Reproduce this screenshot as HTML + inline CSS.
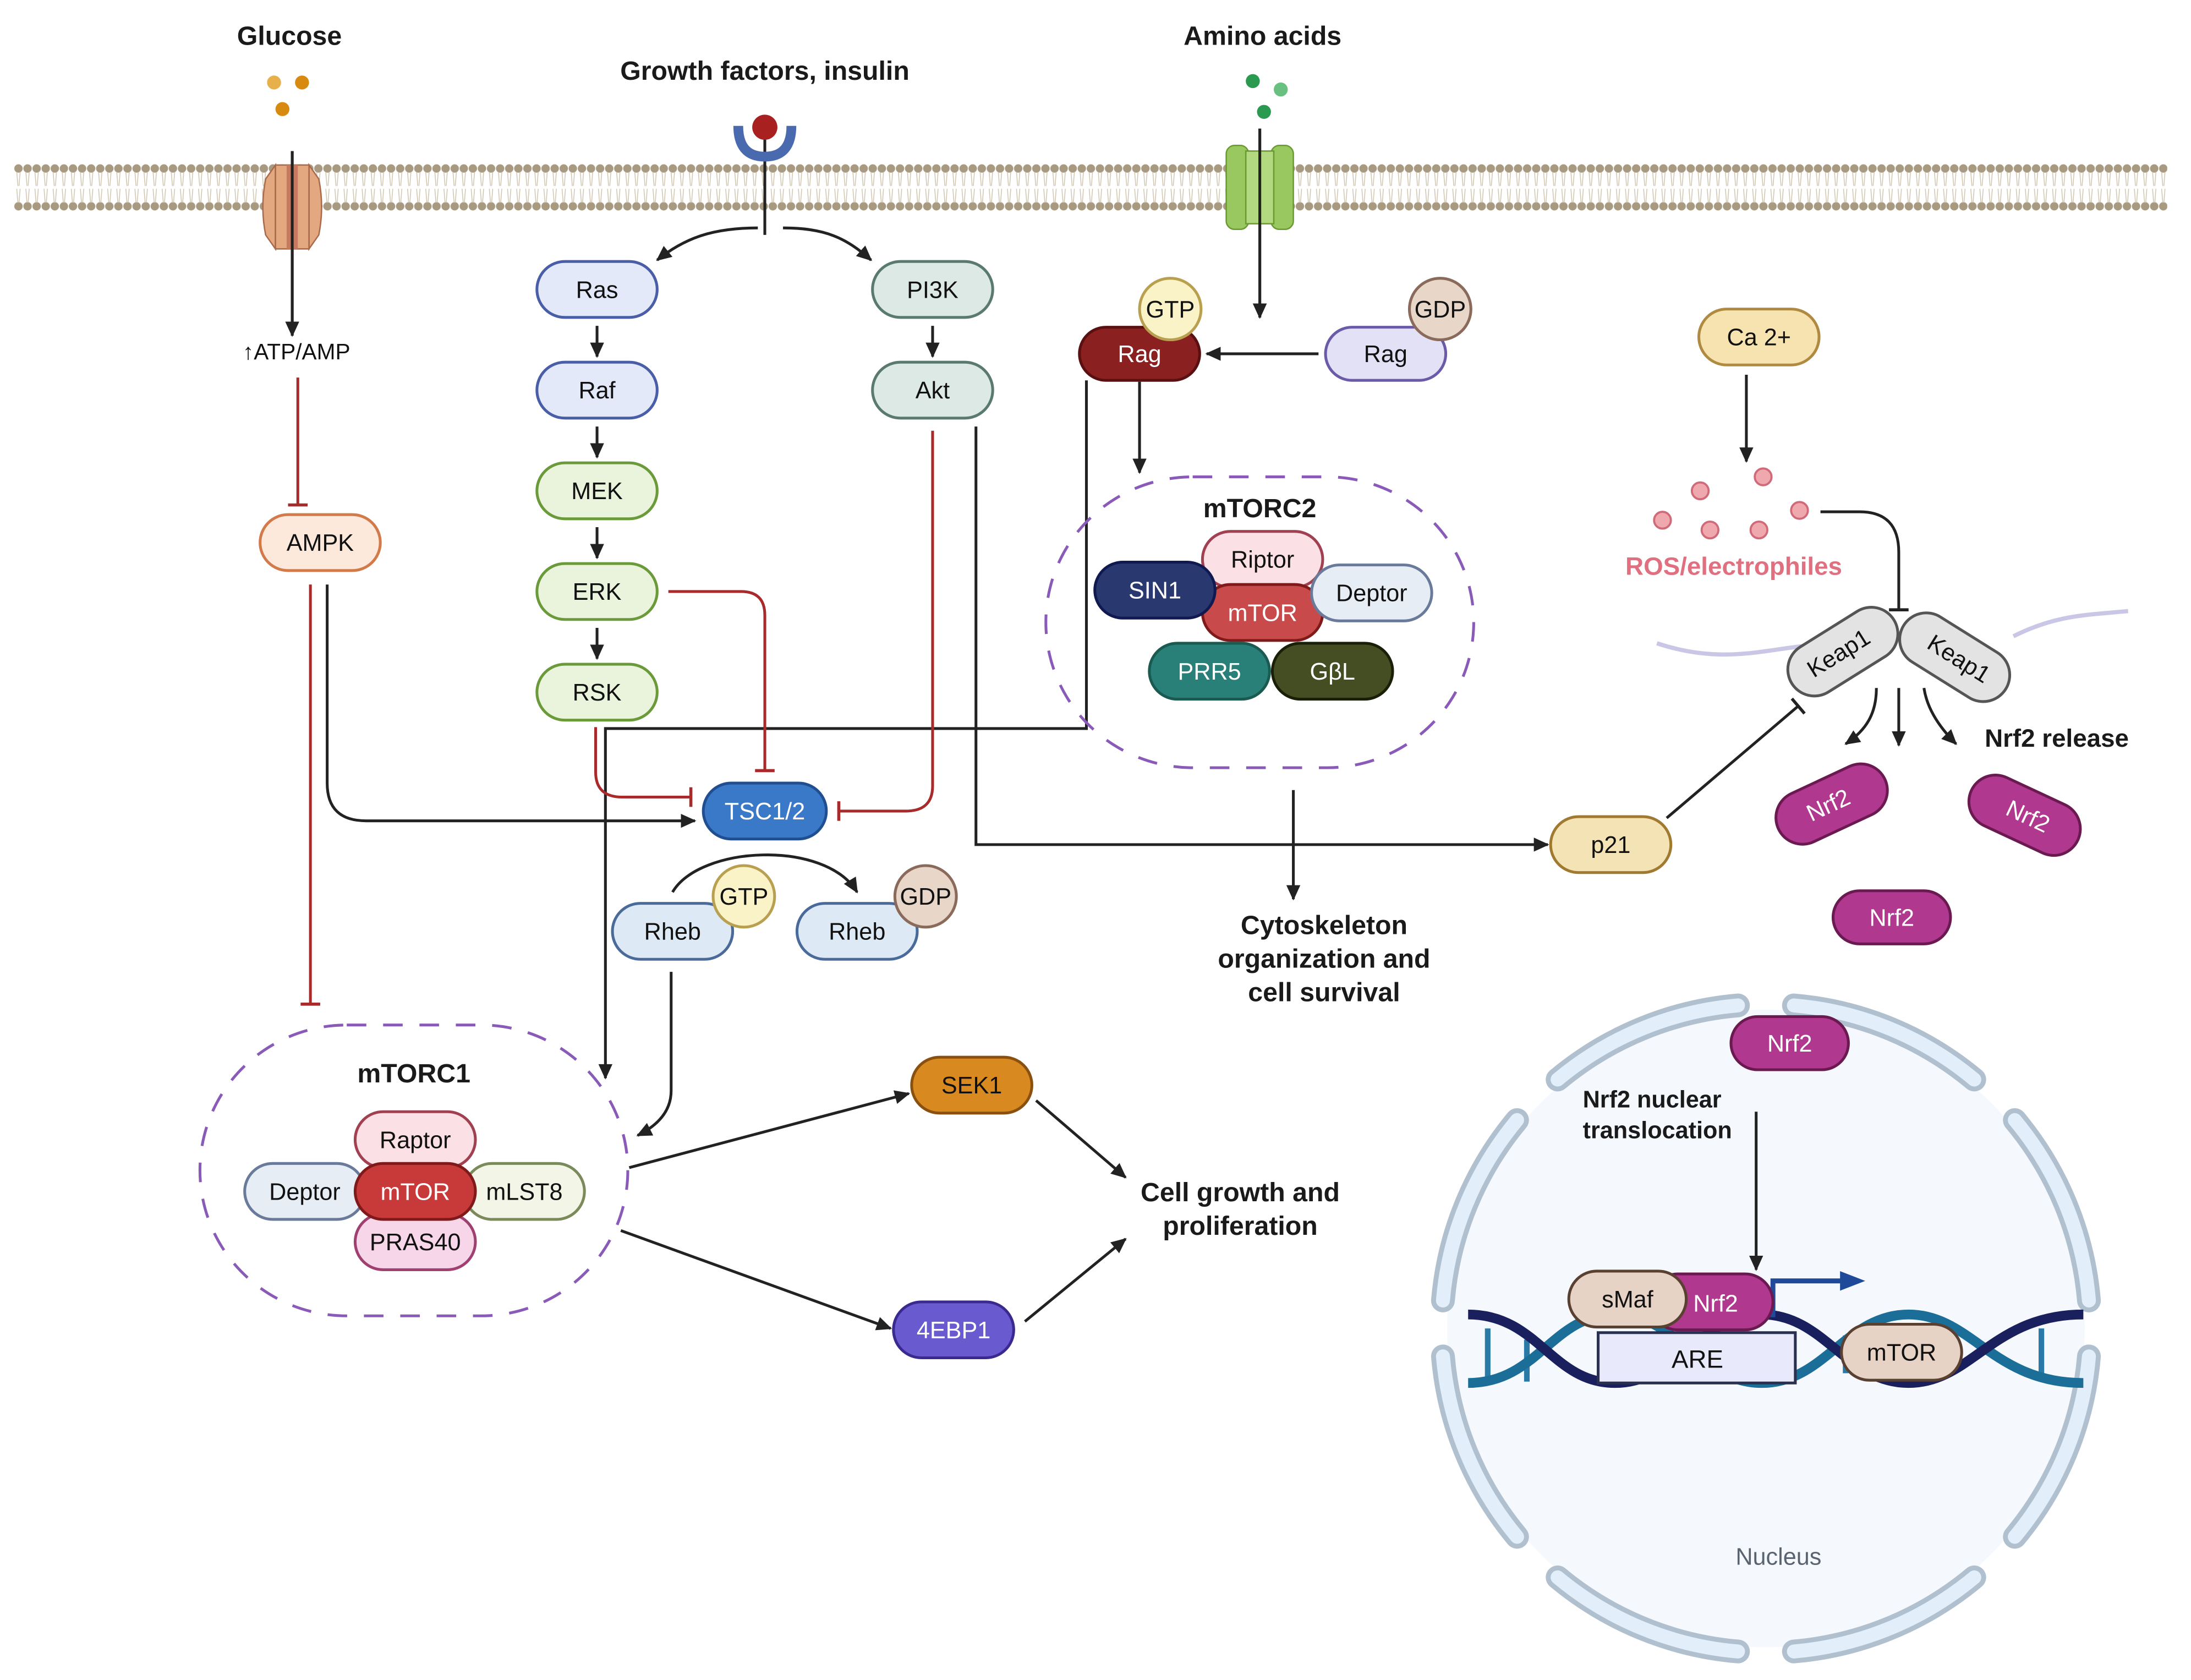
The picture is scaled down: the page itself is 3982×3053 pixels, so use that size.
<!DOCTYPE html>
<html><head><meta charset="utf-8"><style>html,body{margin:0;padding:0;background:#fff}svg{display:block}text{font-family:"Liberation Sans",sans-serif}</style></head><body>
<svg width="3982" height="3053" viewBox="0 0 1567 1201.4" preserveAspectRatio="none" xmlns="http://www.w3.org/2000/svg">
<defs>
<marker id="a" markerUnits="userSpaceOnUse" markerWidth="12" markerHeight="10" refX="10" refY="5" orient="auto" overflow="visible"><path d="M0,0 L11,5 L0,10 z" fill="#222"/></marker>
<marker id="ib" markerUnits="userSpaceOnUse" markerWidth="4" markerHeight="14" refX="1" refY="7" orient="auto" overflow="visible"><rect x="0" y="0" width="2.2" height="14" fill="#222"/></marker>
<marker id="ir" markerUnits="userSpaceOnUse" markerWidth="4" markerHeight="14" refX="1" refY="7" orient="auto" overflow="visible"><rect x="0" y="0" width="2.2" height="14" fill="#a82a2a"/></marker>
<marker id="ab" markerUnits="userSpaceOnUse" markerWidth="20" markerHeight="16" refX="2" refY="7" orient="auto" overflow="visible"><path d="M0,0 L18,7 L0,14 z" fill="#1f4a9a"/></marker>
<pattern id="mem" width="6.5" height="34" patternUnits="userSpaceOnUse" x="10" y="117">
<circle cx="3.2" cy="3.5" r="3" fill="#a89a80"/><circle cx="3.2" cy="30.5" r="3" fill="#a89a80"/>
<path d="M2,6 L2.8,16 M4.4,6 L3.6,16 M2,18 L2.8,28 M4.4,18 L3.6,28" stroke="#cfc5b0" stroke-width="0.6"/>
</pattern>
</defs>
<rect width="1570" height="1210" fill="#fff"/>
<rect x="10" y="117" width="1540" height="34" fill="url(#mem)"/>

<circle cx="1263" cy="950" r="228" fill="#f5f9fe"/>
<g fill="none" stroke-linecap="round">
<g stroke="#b0c0cf" stroke-width="17">
<path d="M1494,930 A232,232 0 0 0 1441,801"/><path d="M1412,772 A232,232 0 0 0 1283,719"/><path d="M1243,719 A232,232 0 0 0 1114,772"/><path d="M1085,801 A232,232 0 0 0 1032,930"/><path d="M1032,970 A232,232 0 0 0 1085,1099"/><path d="M1114,1128 A232,232 0 0 0 1243,1181"/><path d="M1283,1181 A232,232 0 0 0 1412,1128"/><path d="M1441,1099 A232,232 0 0 0 1494,970"/>
</g>
<g stroke="#e2effb" stroke-width="10">
<path d="M1494,930 A232,232 0 0 0 1441,801"/><path d="M1412,772 A232,232 0 0 0 1283,719"/><path d="M1243,719 A232,232 0 0 0 1114,772"/><path d="M1085,801 A232,232 0 0 0 1032,930"/><path d="M1032,970 A232,232 0 0 0 1085,1099"/><path d="M1114,1128 A232,232 0 0 0 1243,1181"/><path d="M1283,1181 A232,232 0 0 0 1412,1128"/><path d="M1441,1099 A232,232 0 0 0 1494,970"/>
</g>
</g>
<text x="1272" y="1119" font-size="17" fill="#5a6470" text-anchor="middle">Nucleus</text>
<g fill="none" stroke-width="7">
<g stroke-width="4"><path d="M1064,950 V985 M1092,958 V988 M1190,946 V975 M1320,955 V982 M1460,950 V982 M1395,945 V970" stroke="#2a7aa8"/></g>
<path d="M1050,989 C1100,989 1110,940 1155,940 C1200,940 1215,989 1260,989 C1305,989 1320,940 1365,940 C1410,940 1425,989 1490,989" stroke="#1a6e98"/>
<path d="M1050,940 C1100,940 1110,989 1155,989 C1200,989 1215,940 1260,940 C1305,940 1320,989 1365,989 C1410,989 1425,940 1490,940" stroke="#1a1f5e"/>
</g>
<rect x="1143" y="953" width="141" height="36" fill="#e8e9fa" stroke="#2a3050" stroke-width="2"/>
<text x="1214" y="978" font-size="18" text-anchor="middle" fill="#111">ARE</text>
<path d="M1268,942 V916 H1318" fill="none" stroke="#1f4a9a" stroke-width="3.5" marker-end="url(#ab)"/>

<path d="M1185,460 C1230,475 1260,465 1290,462 M1440,455 C1470,440 1490,440 1522,437" fill="none" stroke="#c9c6e6" stroke-width="3"/>

<g fill="none" stroke="#222" stroke-width="2">
<path d="M209,108 V240" marker-end="url(#a)"/>
<path d="M547,95 V168"/>
<path d="M542,163 C510,163 490,170 470,186" marker-end="url(#a)"/>
<path d="M560,163 C590,163 605,170 623,186" marker-end="url(#a)"/>
<path d="M427,233 V255" marker-end="url(#a)"/>
<path d="M427,305 V327" marker-end="url(#a)"/>
<path d="M427,377 V399" marker-end="url(#a)"/>
<path d="M427,449 V471" marker-end="url(#a)"/>
<path d="M667,233 V255" marker-end="url(#a)"/>
<path d="M234,418 V560 Q234,587 262,587 H497" marker-end="url(#a)"/>
<path d="M698,305 V604 H1107" marker-end="url(#a)"/>
<path d="M777,272 V521 H433 V771" marker-end="url(#a)"/>
<path d="M815,273 V338" marker-end="url(#a)"/>
<path d="M901,92 V227" marker-end="url(#a)"/>
<path d="M943,253 H863" marker-end="url(#a)"/>
<path d="M925,565 V643" marker-end="url(#a)"/>
<path d="M481,638 C500,605 590,600 613,638" marker-end="url(#a)"/>
<path d="M480,695 V780 Q480,800 456,812" marker-end="url(#a)"/>
<path d="M450,835 L650,782" marker-end="url(#a)"/>
<path d="M444,880 L637,950" marker-end="url(#a)"/>
<path d="M741,787 L805,842" marker-end="url(#a)"/>
<path d="M733,945 L805,886" marker-end="url(#a)"/>
<path d="M1249,268 V330" marker-end="url(#a)"/>
<path d="M1302,366 H1330 Q1358,366 1358,395 V436" marker-end="url(#ib)"/>
<path d="M1192,585 L1286,505" marker-end="url(#ib)"/>
<path d="M1342,492 C1342,510 1335,522 1320,532" marker-end="url(#a)"/>
<path d="M1358,492 V533" marker-end="url(#a)"/>
<path d="M1376,492 C1378,505 1385,518 1399,532" marker-end="url(#a)"/>
<path d="M1256,795 V908" marker-end="url(#a)"/>
</g>
<g fill="none" stroke="#a82a2a" stroke-width="2">
<path d="M213,270 V361" marker-end="url(#ir)"/>
<path d="M222,418 V718" marker-end="url(#ir)"/>
<path d="M478,423 H530 Q547,423 547,440 V551" marker-end="url(#ir)"/>
<path d="M426,520 V552 Q426,570 445,570 H494" marker-end="url(#ir)"/>
<path d="M667,308 V562 Q667,580 648,580 H600" marker-end="url(#ir)"/>
</g>

<circle cx="196" cy="59" r="5" fill="#e8b04a"/><circle cx="216" cy="59" r="5" fill="#d88a10"/><circle cx="202" cy="78" r="5" fill="#d88a10"/>
<path d="M190,128 Q186,148 190,168 L197,178 V118 Z M228,128 Q232,148 228,168 L221,178 V118 Z" fill="#e4a880" stroke="#a86a4a" stroke-width="1"/>
<rect x="197" y="118" width="24" height="60" fill="#e4a880" stroke="#a86a4a" stroke-width="1"/>
<rect x="205" y="118" width="8" height="60" fill="#c87a60"/>
<path d="M209,108 V240" stroke="#222" stroke-width="2"/>
<path d="M528,90 Q528,112 547,112 Q566,112 566,90" fill="none" stroke="#4a6ab0" stroke-width="7"/>
<circle cx="547" cy="91" r="9" fill="#a82020"/>
<circle cx="896" cy="58" r="5" fill="#2a9a50"/><circle cx="916" cy="64" r="5" fill="#6ac080"/><circle cx="904" cy="80" r="5" fill="#2a9a50"/>
<rect x="877" y="104" width="16" height="60" rx="6" fill="#9ac860" stroke="#6a9a30"/>
<rect x="909" y="104" width="16" height="60" rx="6" fill="#9ac860" stroke="#6a9a30"/>
<rect x="891" y="108" width="20" height="52" fill="#b2d880" stroke="#6a9a30"/>
<path d="M901,92 V227" stroke="#222" stroke-width="2" marker-end="url(#a)"/>

<g fill="#eea8ae" stroke="#d06a78" stroke-width="1.5">
<circle cx="1216" cy="351" r="6"/><circle cx="1261" cy="341" r="6"/><circle cx="1189" cy="372" r="6"/><circle cx="1223" cy="379" r="6"/><circle cx="1258" cy="379" r="6"/><circle cx="1287" cy="365" r="6"/>
</g>

<rect x="748" y="341" width="306" height="208" rx="105" fill="none" stroke="#8a5ab8" stroke-width="2" stroke-dasharray="14,12"/>
<rect x="143" y="733" width="306" height="208" rx="105" fill="none" stroke="#8a5ab8" stroke-width="2" stroke-dasharray="14,12"/>

<g stroke-width="2">
<rect x="384" y="187" width="86" height="40" rx="20" fill="#e3e9f8" stroke="#4a5ea8"/>
<rect x="384" y="259" width="86" height="40" rx="20" fill="#e3e9f8" stroke="#4a5ea8"/>
<rect x="384" y="331" width="86" height="40" rx="20" fill="#eaf3dc" stroke="#6a9a3a"/>
<rect x="384" y="403" width="86" height="40" rx="20" fill="#eaf3dc" stroke="#6a9a3a"/>
<rect x="384" y="475" width="86" height="40" rx="20" fill="#eaf3dc" stroke="#6a9a3a"/>
<rect x="624" y="187" width="86" height="40" rx="20" fill="#dde9e5" stroke="#5a7a70"/>
<rect x="624" y="259" width="86" height="40" rx="20" fill="#dde9e5" stroke="#5a7a70"/>
<rect x="186" y="368" width="86" height="40" rx="20" fill="#fde9dc" stroke="#d27a4a"/>
<rect x="503" y="560" width="88" height="40" rx="20" fill="#3a78c8" stroke="#1f4f90"/>
<rect x="438" y="646" width="86" height="40" rx="20" fill="#dde9f5" stroke="#4a6a9a"/>
<circle cx="532" cy="641" r="22" fill="#fbf3c8" stroke="#b8a050"/>
<rect x="570" y="646" width="86" height="40" rx="20" fill="#dde9f5" stroke="#4a6a9a"/>
<circle cx="662" cy="641" r="22" fill="#e8d6c9" stroke="#8a6a5a"/>
<rect x="772" y="234" width="86" height="38" rx="19" fill="#8a2020" stroke="#5a1010"/>
<circle cx="837" cy="221" r="22" fill="#fbf3c8" stroke="#b8a050"/>
<rect x="948" y="234" width="86" height="38" rx="19" fill="#e3e1f5" stroke="#6a5aa8"/>
<circle cx="1030" cy="221" r="22" fill="#e8d6c9" stroke="#8a6a5a"/>
<rect x="860" y="380" width="86" height="40" rx="20" fill="#fbe0e5" stroke="#a04050"/>
<rect x="860" y="418" width="86" height="40" rx="20" fill="#c84a4a" stroke="#801a1a"/>
<rect x="783" y="402" width="86" height="40" rx="20" fill="#2a3870" stroke="#101a50"/>
<rect x="938" y="404" width="86" height="40" rx="20" fill="#e6edf5" stroke="#6a7a9a"/>
<rect x="822" y="460" width="86" height="40" rx="20" fill="#288078" stroke="#1a5a50"/>
<rect x="910" y="460" width="86" height="40" rx="20" fill="#444e22" stroke="#1a2008"/>
<rect x="254" y="795" width="86" height="40" rx="20" fill="#fbe0e5" stroke="#a04050"/>
<rect x="175" y="832" width="86" height="40" rx="20" fill="#e6edf5" stroke="#6a7a9a"/>
<rect x="332" y="832" width="86" height="40" rx="20" fill="#f3f5e6" stroke="#7a8a5a"/>
<rect x="254" y="868" width="86" height="40" rx="20" fill="#f7d6ea" stroke="#a04070"/>
<rect x="254" y="832" width="86" height="40" rx="20" fill="#c83a3a" stroke="#801a1a"/>
<rect x="652" y="756" width="86" height="40" rx="20" fill="#d88a20" stroke="#8a5010"/>
<rect x="639" y="931" width="86" height="40" rx="20" fill="#6a5ad0" stroke="#3a2a90"/>
<rect x="1215" y="221" width="86" height="40" rx="20" fill="#f6e3b0" stroke="#b08a40"/>
<rect x="1109" y="584" width="86" height="40" rx="20" fill="#f3e3b5" stroke="#a07a30"/>
<g transform="translate(1318,466) rotate(-32)"><rect x="-43" y="-19" width="86" height="38" rx="19" fill="#e3e3e3" stroke="#555"/></g>
<g transform="translate(1398,470) rotate(32)"><rect x="-43" y="-19" width="86" height="38" rx="19" fill="#e3e3e3" stroke="#555"/></g>
<g transform="translate(1310,575) rotate(-25)"><rect x="-42" y="-19" width="84" height="38" rx="19" fill="#b0388e" stroke="#6a1a50"/></g>
<g transform="translate(1448,583) rotate(25)"><rect x="-42" y="-19" width="84" height="38" rx="19" fill="#b0388e" stroke="#6a1a50"/></g>
<rect x="1311" y="637" width="84" height="38" rx="19" fill="#b0388e" stroke="#6a1a50"/>
<rect x="1238" y="727" width="84" height="38" rx="19" fill="#b0388e" stroke="#6a1a50"/>
<rect x="1180" y="911" width="88" height="40" rx="20" fill="#b0388e" stroke="#6a1a50"/>
<rect x="1122" y="909" width="84" height="40" rx="20" fill="#e6d3c5" stroke="#5a4030"/>
<rect x="1317" y="947" width="86" height="40" rx="20" fill="#e6d3c5" stroke="#5a4030"/>
</g>

<g font-size="17" text-anchor="middle" fill="#111">
<text x="427" y="213">Ras</text><text x="427" y="285">Raf</text><text x="427" y="357">MEK</text><text x="427" y="429">ERK</text><text x="427" y="501">RSK</text>
<text x="667" y="213">PI3K</text><text x="667" y="285">Akt</text><text x="229" y="394">AMPK</text>
<text x="547" y="586" fill="#fff">TSC1/2</text>
<text x="481" y="672">Rheb</text><text x="532" y="647">GTP</text><text x="613" y="672">Rheb</text><text x="662" y="647">GDP</text>
<text x="815" y="259" fill="#fff">Rag</text><text x="837" y="227">GTP</text><text x="991" y="259">Rag</text><text x="1030" y="227">GDP</text>
<text x="903" y="406">Riptor</text><text x="903" y="444" fill="#fff">mTOR</text><text x="826" y="428" fill="#fff">SIN1</text><text x="981" y="430">Deptor</text>
<text x="865" y="486" fill="#fff">PRR5</text><text x="953" y="486" fill="#fff">GβL</text>
<text x="297" y="821">Raptor</text><text x="218" y="858">Deptor</text><text x="297" y="858" fill="#fff">mTOR</text><text x="375" y="858">mLST8</text><text x="297" y="894">PRAS40</text>
<text x="695" y="782">SEK1</text><text x="682" y="957" fill="#fff">4EBP1</text>
<text x="1258" y="247">Ca 2+</text><text x="1152" y="610">p21</text>
<text transform="translate(1318,472) rotate(-32)">Keap1</text>
<text transform="translate(1398,476) rotate(32)">Keap1</text>
<text transform="translate(1310,581) rotate(-25)" fill="#fff">Nrf2</text>
<text transform="translate(1448,589) rotate(25)" fill="#fff">Nrf2</text>
<text x="1353" y="662" fill="#fff">Nrf2</text><text x="1280" y="752" fill="#fff">Nrf2</text>
<text x="1227" y="938" fill="#fff">Nrf2</text><text x="1164" y="935">sMaf</text><text x="1360" y="973">mTOR</text>
<text x="212" y="257" font-size="16">↑ATP/AMP</text>
</g>
<g font-size="19" font-weight="bold" text-anchor="middle" fill="#1a1a1a">
<text x="207" y="32">Glucose</text>
<text x="547" y="57">Growth factors, insulin</text>
<text x="903" y="32">Amino acids</text>
<text x="901" y="370">mTORC2</text>
<text x="296" y="774">mTORC1</text>
<text x="947" y="668">Cytoskeleton</text><text x="947" y="692">organization and</text><text x="947" y="716">cell survival</text>
<text x="887" y="859">Cell growth and</text><text x="887" y="883">proliferation</text>
<text x="1471" y="534" font-size="18">Nrf2 release</text>
<text x="1240" y="411" fill="#e07080" font-size="18">ROS/electrophiles</text>
<text x="1132" y="792" font-size="17" text-anchor="start">Nrf2 nuclear</text>
<text x="1132" y="814" font-size="17" text-anchor="start">translocation</text>
</g>
</svg>
</body></html>
